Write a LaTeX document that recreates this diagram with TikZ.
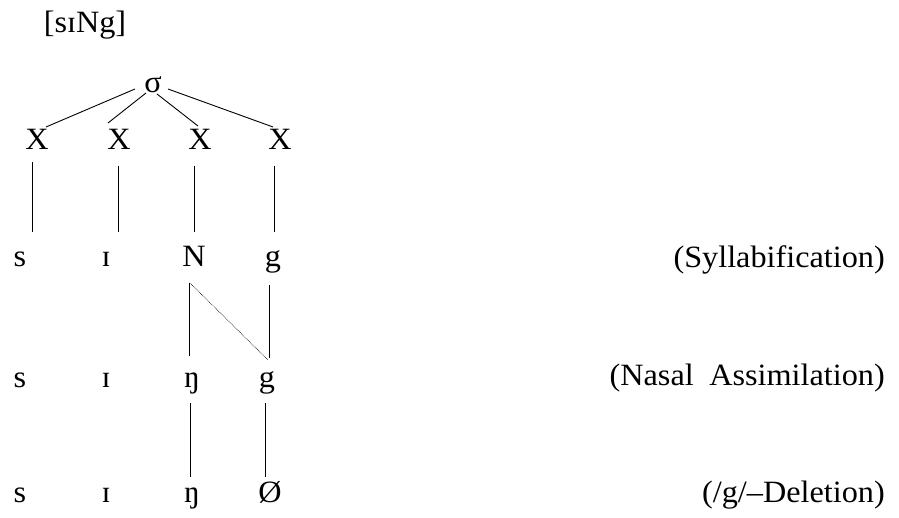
\documentclass[tikz,border=0pt]{standalone}
\usepackage{fontspec}
\setmainfont[FakeStretch=1.04]{Liberation Serif}
\begin{document}
\begin{tikzpicture}[x=1pt,y=1pt,
  seg/.style={inner sep=0pt,anchor=base,font=\fontsize{31}{37}\selectfont},
  lab/.style={inner sep=0pt,anchor=base east,font=\fontsize{31}{37}\selectfont},
  ln/.style={line width=0.9pt},
  dotln/.style={line width=0.6pt,dash pattern=on 0.7pt off 0.9pt}]
\useasboundingbox (0,0) rectangle (899,-518);
% title
\node[seg] (title) at (85,-33) {[sɪNg]};
% sigma and skeleton
\node[seg] (sigma) at (153,-93) {σ};
\node[seg] (X1) at (37,-150) {X};
\node[seg] (X2) at (119,-150) {X};
\node[seg] (X3) at (200,-150) {X};
\node[seg] (X4) at (280,-150) {X};
% row 1
\node[seg] (s1) at (20,-267) {s};
\node[seg] (i1) at (106,-267) {ɪ};
\node[seg] (N1) at (194,-267) {N};
\node[seg] (g1) at (273,-267) {g};
% row 2
\node[seg] (s2) at (20,-387) {s};
\node[seg] (i2) at (106,-387) {ɪ};
\node[seg] (ng2) at (192,-387) {ŋ};
\node[seg] (g2) at (267,-387) {g};
% row 3
\node[seg] (s3) at (20,-502) {s};
\node[seg] (i3) at (106,-502) {ɪ};
\node[seg] (ng3) at (192,-502) {ŋ};
\node[seg] (zero3) at (270,-502) {Ø};
% labels
\node[lab] (L1) at (885,-268) {(Syllabification)};
\node[lab] (L2) at (885,-385) {(Nasal\hspace{0.5em}Assimilation)};
\node[lab] (L3) at (885,-502) {(/g/–Deletion)};
% sigma to X
\draw[ln] ([shift={(-18,4)}]sigma.base) -- ([shift={(9,23)}]X1.base);
\draw[ln] ([shift={(-7,0)}]sigma.base) -- ([shift={(-11,27)}]X2.base);
\draw[ln] ([shift={(4,-1)}]sigma.base) -- ([shift={(-2,24)}]X3.base);
\draw[ln] ([shift={(15,4)}]sigma.base) -- ([shift={(-7,23)}]X4.base);
% X to row 1
\draw[ln] ([shift={(-5,-12)}]X1.base) -- ([shift={(12,35)}]s1.base);
\draw[ln] ([shift={(-1,-16)}]X2.base) -- ([shift={(12,35)}]i1.base);
\draw[ln] ([shift={(-6,-16)}]X3.base) -- ([shift={(0,35)}]N1.base);
\draw[ln] ([shift={(-6,-16)}]X4.base) -- ([shift={(1,35)}]g1.base);
% row 1 to row 2
\draw[ln] ([shift={(-5,-16)}]N1.base) -- ([shift={(-3,31)}]ng2.base);
\draw[ln] ([shift={(-4,-18)}]g1.base) -- ([shift={(2,29)}]g2.base);
\draw[dotln] ([shift={(-4,-16)}]N1.base) -- ([shift={(1,27)}]g2.base);
% row 2 to row 3
\draw[ln] ([shift={(-2,-16)}]ng2.base) -- ([shift={(-2,25)}]ng3.base);
\draw[ln] ([shift={(-2,-16)}]g2.base) -- ([shift={(-5,25)}]zero3.base);
\end{tikzpicture}
\end{document}
